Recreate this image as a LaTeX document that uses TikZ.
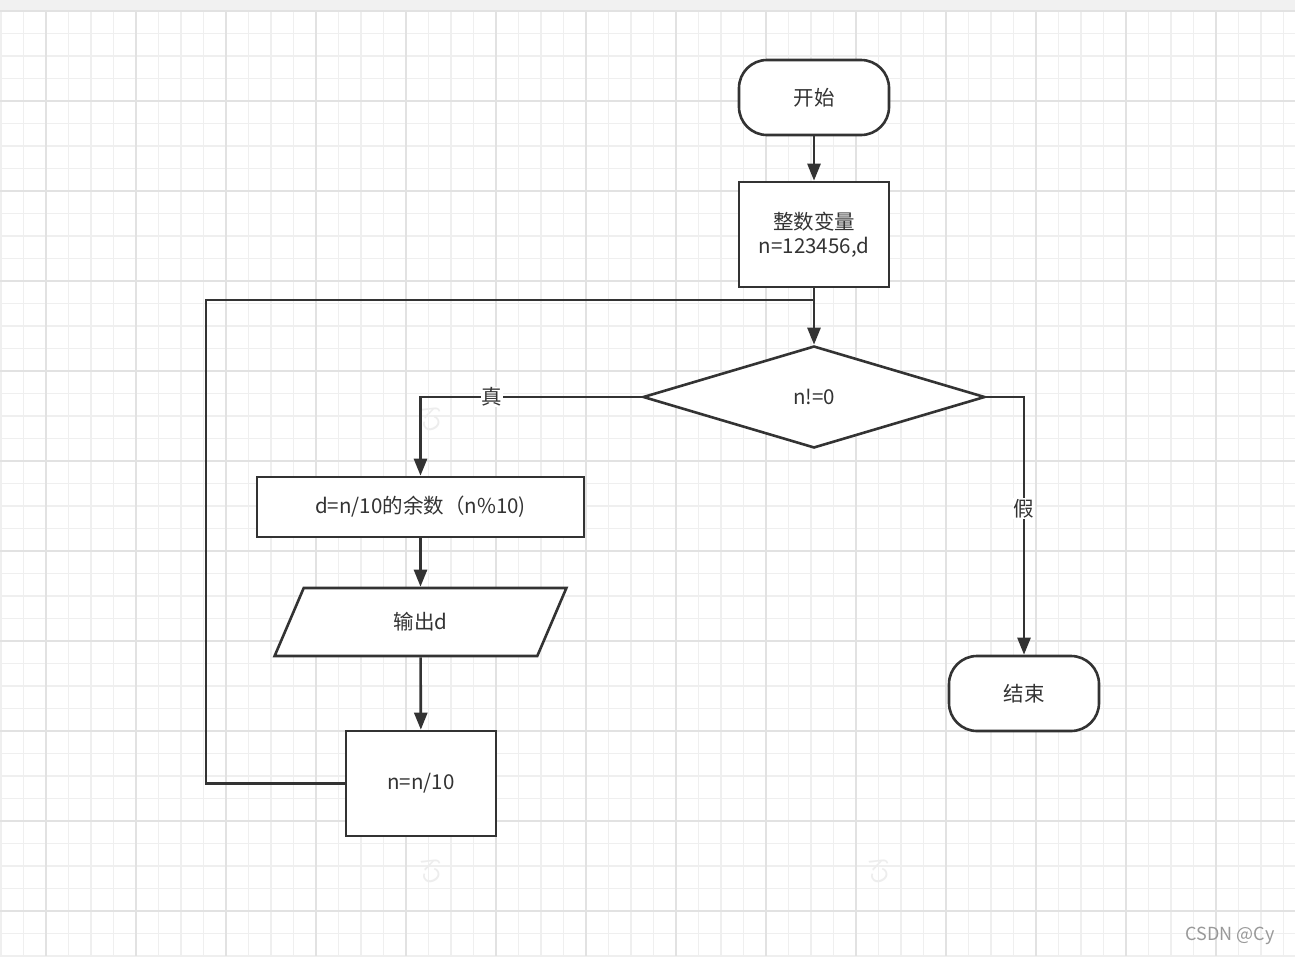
\documentclass[tikz,border=0pt]{standalone}
\usepackage{fontspec}
\setmainfont{Noto Sans CJK SC}
\usetikzlibrary{arrows.meta,positioning,shapes.geometric}
\definecolor{ink}{HTML}{333333}
\definecolor{gridminor}{HTML}{EFEFEF}
\definecolor{gridmajor}{HTML}{E2E2E2}
\definecolor{topbar}{HTML}{F1F1F1}
\definecolor{mark}{HTML}{999999}
\definecolor{ghost}{HTML}{EDEDED}
\newcommand{\flowfont}{\fontsize{20.5}{24}\selectfont}
\tikzset{
  terminal/.style={draw=ink,line width=2.6pt,fill=white,rounded corners=28pt,minimum width=150pt,minimum height=75pt,inner sep=0pt,text=ink,font=\flowfont},
  process/.style={draw=ink,line width=2.6pt,fill=white,inner sep=0pt,align=center,text=ink,font=\flowfont},
  decision/.style={diamond,draw=ink,line width=2.6pt,fill=white,minimum width=342pt,minimum height=102pt,inner sep=0pt,text=ink,font=\flowfont},
  io/.style={trapezium,trapezium left angle=70.5,trapezium right angle=109.5,trapezium stretches=true,draw=ink,line width=2.6pt,fill=white,minimum width=292pt,minimum height=68pt,inner sep=0pt,text=ink,font=\flowfont},
  flow/.style={-{Triangle[length=17pt,width=13pt]},line width=2.6pt,draw=ink},
  link/.style={line width=2.6pt,draw=ink},
  tag/.style={fill=white,inner sep=1pt,text=ink,font=\flowfont},
  gridline/.style={draw=#1,line width=1.4pt}
}

\begin{document}
\begin{tikzpicture}[x=1pt,y=-1pt]
  \useasboundingbox (0,0) rectangle (1295,956);
  \fill[white] (0,0) rectangle (1295,956);
  \fill[topbar] (0,0) rectangle (1295,11);
  \foreach \k in {0,...,57} \draw[gridline=gridminor] ({1+22.5*\k},11) -- ({1+22.5*\k},956);
  \foreach \k in {0,...,42} \draw[gridline=gridminor] (0,{11+22.5*\k}) -- (1295,{11+22.5*\k});
  \foreach \k in {0,...,13} \draw[gridline=gridmajor] ({46+90*\k},11) -- ({46+90*\k},956);
  \foreach \k in {0,...,10} \draw[gridline=gridmajor] (0,{11+90*\k}) -- (1295,{11+90*\k});
  \foreach \p/\q in {432/418,432/870,880/870}
    \node[text=ghost,font=\fontsize{22}{24}\selectfont,rotate=115] at (\p,\q) {Cy};

  \node[terminal] (start) at (814,97.5) {开始};
  \node[process,minimum width=150pt,minimum height=105pt] (init) at (814,234.5) {整数变量\\n=123456,d};
  \node[decision] (cond) at (814,397) {n!=0};
  \node[process,minimum width=327pt,minimum height=60pt] (calc) at (420.5,507) {d=n/10的余数（n\%10)};
  \node[io] (out) at (420.5,622) {输出d};
  \node[process,minimum width=150pt,minimum height=105pt] (upd) at (421,783.5) {n=n/10};
  \node[terminal] (stop) at (1024,693.5) {结束};
  \coordinate (back) at (206,300);
  \coordinate (join) at (814,300);

  \draw[flow] (start) -- (init);
  \draw[flow] (init) -- (cond);
  \draw[link] (upd.west) -| (back) -- (join);
  \draw[flow] (cond.west) -| node[tag,pos=0.338] {真} (calc.north);
  \draw[flow] (calc) -- (out);
  \draw[flow] (out) -- (upd);
  \draw[flow] (cond.east) -| node[tag,pos=0.716] {假} (stop.north);

  \node[anchor=east,text=mark,font=\fontsize{18}{20}\selectfont] (wm) at (1278,936) {CSDN @Cy};
\end{tikzpicture}
\end{document}
